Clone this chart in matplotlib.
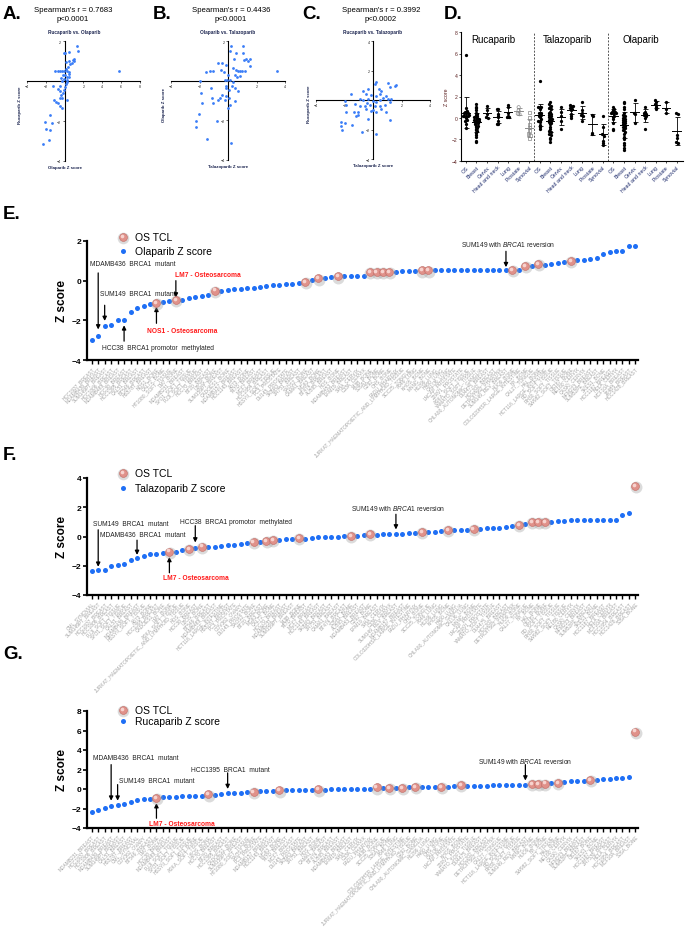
import numpy as np
import matplotlib
matplotlib.use("Agg")
import matplotlib.pyplot as plt
from matplotlib.transforms import offset_copy

plt.rcParams['font.family'] = ['Liberation Sans', 'DejaVu Sans']
plt.rcParams['mathtext.fontset'] = 'custom'
plt.rcParams['mathtext.it'] = 'Liberation Sans:italic'
plt.rcParams['mathtext.rm'] = 'Liberation Sans'

# ---------------- data: correlation scatters (A-C) ----------------
a_x = [1.30, 1.37, 0.42, 0.0, -0.11, 0.88, 1.02, 0.77, 0.42, 0.95, -0.98, -0.74, -0.53, -0.28,
       -0.04, 0.25, 0.49, 5.75, 0.07, 0.25, 0.42, -0.11, -0.28, 0.25, 0.14, -0.46, -1.26, -0.74,
       -0.53, -0.18, -0.39, -0.53, -0.28, 0.25, -0.88, -0.74, -0.53, -0.28, -1.16, -1.51, -2.04,
       -1.33, -1.93, -1.58, -1.68, -2.28, 0.1, -0.2, 0.3, 0.05, -0.1, 0.35, 0.6, 0.15, -0.4, 0.5]
a_y = [1.77, 1.51, 1.47, 1.42, 1.39, 1.04, 0.98, 0.89, 1.02, 1.12, 0.51, 0.51, 0.51, 0.51,
       0.51, 0.51, 0.46, 0.51, 0.28, 0.19, 0.37, 0.11, 0.02, -0.07, -0.16, -0.25, -0.26, -0.42,
       -0.51, -0.6, -0.68, -0.86, -0.86, -0.95, -1.07, -1.12, -1.25, -1.35, -0.95, -1.70, -2.05,
       -2.09, -2.40, -2.44, -2.93, -3.14, 0.6, 0.3, 0.05, -0.3, -0.45, 0.7, 0.85, 0.95, 0.15, 0.2]

b_x = [-1.99, -1.87, -1.83, -2.04, -2.27, -2.23, -1.48, -1.57, -1.29, -1.05, -0.70, -0.46, -0.39,
       -0.28, -0.11, 0.0, -1.17, -1.15, -1.05, -0.70, -0.58, -0.77, -0.39, -0.21, -0.06, -0.16,
       0.07, 0.12, 0.24, 0.16, 0.40, 0.59, 1.06, 1.06, 1.11, 1.29, 1.41, 1.53, 1.53, 0.35, 0.54,
       0.71, 0.87, 1.01, 1.18, 3.41, 0.47, 0.64, 0.12, 0.35, -0.12, 0.47, 0.71, -0.16, 0.07, 0.0,
       0.24, -0.24, 0.47, 0.31, 0.82]
b_y = [-0.02, -0.6, -1.12, -1.70, -2.05, -2.35, -2.93, 0.46, 0.51, 0.51, 0.89, 0.54, 0.89, 0.46,
       0.81, 0.28, -0.37, -0.86, -1.12, -0.95, -0.89, -2.02, -0.72, 0.02, 0.02, -0.37, -0.47,
       -1.21, 1.77, 1.51, 1.07, 1.42, 1.77, 1.42, 1.04, 1.07, 0.98, 1.11, 0.72, 0.63, 0.54, 0.51,
       0.51, 0.49, 0.51, 0.51, 0.28, 0.19, 0.05, -0.07, -0.25, -0.37, -0.54, -0.77, -0.86, -1.39,
       -3.14, -0.95, -1.04, -0.25, 0.23]

c_x = [0.19, 0.12, 1.05, 1.21, 1.51, 1.63, -0.35, -0.70, 0.42, 0.58, -1.51, -0.47, -0.12, 0.23,
       0.47, 0.93, 1.05, 1.28, -0.93, -0.70, -0.35, 0.0, 0.23, 0.47, 0.70, 1.16, -1.98, -1.91,
       -1.28, -0.93, -0.58, -0.23, 0.12, 0.47, 0.81, 0.58, -1.86, -1.35, -1.05, -0.47, 0.0, 0.23,
       0.93, -1.21, -1.05, -0.35, 1.21, -2.28, -1.98, -2.28, -2.21, -1.44, -0.74, 0.23, -0.42, -0.12]
c_y = [1.25, 1.09, 1.16, 0.86, 0.93, 1.02, 0.75, 0.64, 0.75, 0.64, 0.41, 0.41, 0.34, 0.30, 0.41,
       0.30, 0.07, 0.07, 0.07, 0.02, 0.07, -0.05, -0.16, 0.02, 0.11, -0.16, -0.05, -0.34, -0.27,
       -0.39, -0.39, -0.34, -0.39, -0.39, -0.34, -0.61, -0.84, -0.84, -0.84, -0.61, -0.66, -0.84,
       -0.80, -1.07, -1.02, -1.30, -1.34, -1.48, -1.57, -1.75, -2.02, -1.70, -2.16, -2.32, -0.20, -0.73]

# ---------------- data: waterfall panels (E-G) ----------------
ola_z = [-3.0, -2.8, -2.3, -2.25, -2.0, -2.0, -1.6, -1.4, -1.28, -1.2,
         -1.12, -1.07, -1.02, -0.98, -0.98, -0.87, -0.82, -0.77, -0.73, -0.5,
         -0.5, -0.47, -0.43, -0.42, -0.39, -0.38, -0.32, -0.25, -0.23, -0.21,
         -0.17, -0.15, -0.12, -0.05, 0.04, 0.12, 0.15, 0.19, 0.22, 0.23,
         0.23, 0.24, 0.25, 0.43, 0.43, 0.43, 0.44, 0.46, 0.47, 0.47,
         0.48, 0.52, 0.52, 0.54, 0.55, 0.55, 0.55, 0.55, 0.55, 0.55,
         0.55, 0.55, 0.55, 0.55, 0.55, 0.55, 0.56, 0.73, 0.73, 0.83,
         0.8, 0.83, 0.9, 0.93, 1.0, 1.03, 1.05, 1.07, 1.13, 1.35,
         1.43, 1.48, 1.48, 1.73, 1.73]
ola_os = [10, 13, 19, 33, 35, 38, 43, 44, 45, 46, 51, 52, 65, 67, 69, 74]

tala_z = [-2.37, -2.3, -2.3, -2.02, -1.93, -1.86, -1.6, -1.5, -1.33, -1.22,
          -1.17, -1.15, -1.03, -1.03, -0.94, -0.85, -0.76, -0.69, -0.71, -0.69,
          -0.64, -0.6, -0.55, -0.53, -0.46, -0.37, -0.37, -0.3, -0.25, -0.23,
          -0.18, -0.18, -0.11, -0.14, -0.11, -0.05, -0.03, -0.03, 0.0, 0.02,
          0.05, 0.05, 0.07, 0.16, 0.11, 0.14, 0.16, 0.18, 0.18, 0.21,
          0.25, 0.3, 0.32, 0.34, 0.39, 0.44, 0.44, 0.44, 0.46, 0.5,
          0.53, 0.55, 0.55, 0.6, 0.64, 0.69, 0.8, 0.85, 0.99, 0.99,
          0.99, 0.99, 1.03, 1.06, 1.1, 1.1, 1.13, 1.13, 1.13, 1.13,
          1.13, 1.13, 1.45, 1.59, 3.47]
tala_os = [12, 15, 17, 25, 27, 28, 32, 40, 43, 51, 55, 59, 66, 68, 69, 70, 84]

ruca_z = [-2.38, -2.14, -1.97, -1.72, -1.66, -1.55, -1.38, -1.1, -1.03, -1.0,
          -0.93, -0.86, -0.83, -0.79, -0.76, -0.76, -0.76, -0.69, -0.55, -0.59,
          -0.52, -0.41, -0.41, -0.38, -0.34, -0.28, -0.24, -0.21, -0.17, -0.14,
          -0.14, -0.14, -0.14, -0.14, -0.1, -0.03, -0.07, 0.0, 0.0, 0.0,
          0.0, 0.0, 0.02, 0.03, 0.17, 0.1, 0.14, 0.14, 0.14, 0.17,
          0.2, 0.17, 0.17, 0.2, 0.24, 0.24, 0.31, 0.42, 0.35, 0.35,
          0.35, 0.35, 0.38, 0.38, 0.38, 0.42, 0.42, 0.42, 0.49, 0.49,
          0.56, 0.59, 0.63, 0.73, 0.77, 0.77, 0.8, 0.9, 0.94, 1.01,
          1.01, 1.08, 1.15, 1.25, 5.89]
ruca_os = [10, 18, 25, 29, 35, 44, 46, 48, 50, 54, 57, 68, 69, 70, 72, 77, 84]

ola_names = [
    "HCC1937_BREAST", "MDAMB436_BREAST", "SUM149PT_BREAST", "HCC1806_BREAST", "MDAMB468_BREAST",
    "HCC38_BREAST", "HCC1395_BREAST", "CAL51_BREAST", "BT549_BREAST", "HS578T_BREAST",
    "NOS1_BONE", "CAL72_BONE", "HT1080_SOFT_TISSUE", "LM7_BONE", "MDAMB231_BREAST",
    "SYO1_SOFT_TISSUE", "FUJI_SOFT_TISSUE", "HCC70_BREAST", "BT20_BREAST", "U2OS_BONE",
    "SUM159PT_BREAST", "CADOES1_BONE", "MDAMB157_BREAST", "HCC1143_BREAST", "A673_BONE",
    "T47D_BREAST", "MCF7_BREAST", "HCC1954_BREAST", "HSSYII_SOFT_TISSUE", "PC3_PROSTATE",
    "DU145_PROSTATE", "SKBR3_BREAST", "ZR751_BREAST", "SAOS2_BONE", "CAMA1_BREAST",
    "MG63_BONE", "BT474_BREAST", "AU565_BREAST", "HOS_BONE", "MDAMB453_BREAST",
    "EFM19_BREAST", "SIHA_CERVIX", "C33A_CERVIX", "143B_BONE", "SJSA1_BONE",
    "G292_BONE", "OHS_BONE", "FADU_PHARYNX", "JURKAT_HAEMATOPOIETIC_AND_LYMPHOID_TISSUE", "SCC25_TONGUE",
    "A549_LUNG", "KHOS_BONE", "MNNG_BONE", "H1299_LUNG", "H460_LUNG",
    "CALU6_LUNG", "LNCAP_PROSTATE", "22RV1_PROSTATE", "ASKA_SOFT_TISSUE", "YAMATO_SOFT_TISSUE",
    "CHLA90_AUTONOMIC_GANGLIA", "DU4475_BREAST", "HCC202_BREAST", "DETROIT562_PHARYNX", "SUM149_REV_BREAST",
    "HUO9_BONE", "COLO320HSR_LARGE_INTESTINE", "NY_BONE", "CAL27_TONGUE", "HAL_BONE",
    "HCT116_LARGE_INTESTINE", "RD_SOFT_TISSUE", "RH30_SOFT_TISSUE", "SW982_SOFT_TISSUE", "OS187_BONE",
    "ME180_CERVIX", "CASKI_CERVIX", "MFM223_BREAST", "SUM52PE_BREAST", "SKES1_BONE",
    "HCC1187_BREAST", "HELA_CERVIX", "MCF10A_BREAST", "184B5_BREAST", "HCC1428_BREAST"]

tala_names = [
    "CML_SYNOVIAL", "SUM149PT_BREAST", "HCC1937_BREAST", "HCC1806_BREAST", "FUJI_SOFT_TISSUE",
    "SYO1_SOFT_TISSUE", "CAL51_BREAST", "MDAMB436_BREAST", "HSSYII_SOFT_TISSUE", "A673_BONE",
    "HCC1395_BREAST", "CADOES1_BONE", "LM7_BONE", "ASKA_SOFT_TISSUE", "JURKAT_HAEMATOPOIETIC_AND_LYMPHOID_TISSUE",
    "HOS_BONE", "HCC38_BREAST", "U2OS_BONE", "BT549_BREAST", "MDAMB468_BREAST",
    "HCT116_LARGE_INTESTINE", "HS578T_BREAST", "PC3_PROSTATE", "COV362_OVARY", "DU145_PROSTATE",
    "SAOS2_BONE", "BT20_BREAST", "MG63_BONE", "CAL72_BONE", "HCC70_BREAST",
    "MDAMB231_BREAST", "SUM159PT_BREAST", "143B_BONE", "T47D_BREAST", "MCF7_BREAST",
    "HCC1143_BREAST", "SKBR3_BREAST", "ZR751_BREAST", "CAMA1_BREAST", "BT474_BREAST",
    "SJSA1_BONE", "AU565_BREAST", "MDAMB453_BREAST", "G292_BONE", "EFM19_BREAST",
    "SIHA_CERVIX", "C33A_CERVIX", "SUM149_REV_BREAST", "MDAMB157_BREAST", "COLO320HSR_LARGE_INTESTINE",
    "FADU_PHARYNX", "OHS_BONE", "SCC25_TONGUE", "A549_LUNG", "H1299_LUNG",
    "KHOS_BONE", "H460_LUNG", "CHLA90_AUTONOMIC_GANGLIA", "CALU6_LUNG", "MNNG_BONE",
    "LNCAP_PROSTATE", "22RV1_PROSTATE", "YAMATO_SOFT_TISSUE", "DU4475_BREAST", "HCC202_BREAST",
    "DETROIT562_PHARYNX", "HUO9_BONE", "CAL27_TONGUE", "NY_BONE", "HAL_BONE",
    "OS187_BONE", "RD_SOFT_TISSUE", "RH30_SOFT_TISSUE", "SW982_SOFT_TISSUE", "ME180_CERVIX",
    "CASKI_CERVIX", "MFM223_BREAST", "SUM52PE_BREAST", "SKES1_BONE", "HCC1187_BREAST",
    "HELA_CERVIX", "MCF10A_BREAST", "HCC1954_BREAST", "HCC1428_BREAST", "SJSA_BONE"]

ruca_names = [
    "MDAMB231_BREAST", "HCC1937_BREAST", "HCC1806_BREAST", "MDAMB436_BREAST", "SUM149PT_BREAST",
    "CAL51_BREAST", "HS578T_BREAST", "CML_SYNOVIAL", "COV362_OVARY", "BT549_BREAST",
    "LM7_BONE", "HCC38_BREAST", "MDAMB468_BREAST", "FUJI_SOFT_TISSUE", "SYO1_SOFT_TISSUE",
    "HSSYII_SOFT_TISSUE", "A673_BONE", "ASKA_SOFT_TISSUE", "U2OS_BONE", "HCC70_BREAST",
    "BT20_BREAST", "HCC1395_BREAST", "CADOES1_BONE", "SUM159PT_BREAST", "HT1080_SOFT_TISSUE",
    "SAOS2_BONE", "PC3_PROSTATE", "MDAMB157_BREAST", "HCC1143_BREAST", "MG63_BONE",
    "T47D_BREAST", "MCF7_BREAST", "DU145_PROSTATE", "SKBR3_BREAST", "ZR751_BREAST",
    "HOS_BONE", "CAMA1_BREAST", "BT474_BREAST", "AU565_BREAST", "MDAMB453_BREAST",
    "EFM19_BREAST", "SIHA_CERVIX", "C33A_CERVIX", "FADU_PHARYNX", "143B_BONE",
    "SCC25_TONGUE", "SJSA1_BONE", "A549_LUNG", "COLO320HSR_LARGE_INTESTINE", "JURKAT_HAEMATOPOIETIC_AND_LYMPHOID_TISSUE",
    "G292_BONE", "CHLA90_AUTONOMIC_GANGLIA", "H1299_LUNG", "H460_LUNG", "OHS_BONE",
    "CALU6_LUNG", "LNCAP_PROSTATE", "KHOS_BONE", "22RV1_PROSTATE", "YAMATO_SOFT_TISSUE",
    "DU4475_BREAST", "HCC202_BREAST", "DETROIT562_PHARYNX", "CAL27_TONGUE", "HCT116_LARGE_INTESTINE",
    "RD_SOFT_TISSUE", "RH30_SOFT_TISSUE", "SUM149_REV_BREAST", "MNNG_BONE", "HUO9_BONE",
    "NY_BONE", "SW982_SOFT_TISSUE", "HAL_BONE", "ME180_CERVIX", "CASKI_CERVIX",
    "MFM223_BREAST", "SUM52PE_BREAST", "OS187_BONE", "SKES1_BONE", "HCC1187_BREAST",
    "ZR7530_BREAST", "HELA_CERVIX", "HCC1954_BREAST", "MCF10A_BREAST", "SJSA_BONE"]

# ---------------- data: tumour-type dot plots (D) ----------------
tumour_types = ["OS", "Breast", "Cervix", "Head and neck", "Lung", "Prostate", "Synovial"]
drugs = ["Rucaparib", "Talazoparib", "Olaparib"]
ruca_groups = [
    [1.3, 1.0, 0.9, 0.7, 0.5, 0.4, 0.3, 0.2, 0.1, 0.1, 0.0, -0.1, -0.2, -0.2, -0.3, -0.3, -0.4,
     -0.5, -0.5, -0.6, -0.7, -0.7, -0.8, -0.9, -1.0, -1.1, -1.2, -1.4, -1.6, -1.8, -2.1, -2.2],
    [1.1, 0.7, 0.4, 0.05, 0.0],
    [0.85, 0.8, 0.4, 0.2, 0.1, -0.3, -0.6, -0.6],
    [1.2, 1.0, 0.5, 0.2, 0.1, 0.1],
    [1.0, 0.7, 0.4, 0.35],
    [0.5, 0.0, -0.6, -0.9, -1.2, -1.5, -1.6, -1.9]]
tala_groups = [
    [1.5, 1.3, 1.1, 1.0, 0.9, 0.8, 0.6, 0.5, 0.4, 0.3, 0.2, 0.1, 0.0, -0.1, -0.2, -0.3, -0.4,
     -0.5, -0.6, -0.8, -1.0, -1.2, -1.3, -1.5, -1.6, -1.9, -2.0, -2.2],
    [1.0, 0.6, 0.2, -0.3, -1.0],
    [1.2, 1.1, 1.1, 1.0, 0.9, 0.8, 0.7, 0.4, 0.2, 0.0],
    [1.5, 0.7, 0.5, 0.3, 0.2, -0.3],
    [0.3, 0.2, -1.4, -1.5],
    [0.2, -0.8, -1.5, -1.7, -2.1, -2.3, -2.5]]
ola_groups = [
    [1.5, 1.4, 1.0, 0.8, 0.5, 0.3, 0.2, 0.0, -0.1, -0.2, -0.3, -0.4, -0.5, -0.6, -0.7, -0.8,
     -0.9, -1.0, -1.1, -1.3, -1.5, -1.8, -2.0, -2.3, -2.5, -2.8, -3.0],
    [1.7, 0.5, 0.4, -0.5],
    [1.0, 0.6, 0.5, 0.4, 0.3, 0.2, 0.0, -1.0],
    [1.7, 1.5, 1.3, 1.2, 1.0, 0.8],
    [1.5, 0.8, 0.5],
    [0.5, 0.4, -1.6, -1.9, -2.2, -2.3]]

W, H = 685, 928
BLUE = '#1f6ff5'
fig = plt.figure(figsize=(W / 100, H / 100), dpi=100)


def rect(x0, y0, x1, y1):
    return [x0 / W, 1 - y1 / H, (x1 - x0) / W, (y1 - y0) / H]


def ftext(px, py, s, **kw):
    fig.text(px / W, 1 - py / H, s, **kw)


# panel letters
for letter, px, py in [("A.", 3, 6), ("B.", 153, 6), ("C.", 302, 6), ("D.", 444, 6),
                       ("E.", 3, 206), ("F.", 3, 447), ("G.", 3, 646)]:
    ftext(px, py, letter, fontsize=13.5, fontweight='bold', va='top')

# ---------------- A-C ----------------
def corr_panel(r, xs, ys, xlim, ylim, xticks, yticks, title, xlab, ylab, stat, stat_x, title_x):
    ax = fig.add_axes(r)
    ax.scatter(xs, ys, s=4, color='#3a7df7', lw=0, zorder=3)
    ax.set_xlim(xlim)
    ax.set_ylim(ylim)
    ax.spines['left'].set_position(('data', 0))
    ax.spines['bottom'].set_position(('data', 0))
    ax.spines['top'].set_visible(False)
    ax.spines['right'].set_visible(False)
    for s in ['left', 'bottom']:
        ax.spines[s].set_linewidth(0.8)
    ax.set_xticks(xticks)
    ax.set_yticks(yticks)
    ax.tick_params(labelsize=2.6, length=1.5, width=0.5, pad=1, colors='#222222')
    ax.patch.set_alpha(0)
    ax.text(title_x, 1.07, title, transform=ax.transAxes, ha='center', fontsize=3.4,
            fontweight='bold', color='#1c2550')
    x0 = (0 - xlim[0]) / (xlim[1] - xlim[0])
    ax.text(x0, -0.03, xlab, transform=ax.transAxes, ha='center', va='top', fontsize=3.2,
            fontweight='bold', color='#1c2550')
    ax.text(-0.06, 0.47, ylab, transform=ax.transAxes, ha='center', va='center', rotation=90,
            fontsize=3.2, fontweight='bold', color='#1c2550')
    ftext(stat_x, 11, stat[0], fontsize=5.6, ha='center', va='center')
    ftext(stat_x, 19.5, stat[1], fontsize=5.6, ha='center', va='center')


corr_panel(rect(27, 42, 140, 162), a_x, a_y, (-4, 8), (-4, 2), [-4, -2, 2, 4, 6, 8], [-4, -2, 2],
           "Rucaparib vs. Olaparib", "Olaparib Z score", "Rucaparib Z score",
           ("Spearman's r = 0.7683", "p<0.0001"), 73, 0.42)
corr_panel(rect(171, 42, 285, 161), b_x, b_y, (-4, 4), (-4, 2), [-4, -2, 2, 4], [-4, -2, 2],
           "Olaparib vs. Talazoparib", "Talazoparib Z score", "Olaparib Z score",
           ("Spearman's r = 0.4436", "p<0.0001"), 231, 0.5)
corr_panel(rect(316, 42, 430, 160), c_x, c_y, (-4, 4), (-4, 4), [-4, -2, 2, 4], [-4, -2, 2, 4],
           "Rucaparib vs. Talazoparib", "Talazoparib Z score", "Rucaparib Z score",
           ("Spearman's r = 0.3992", "p<0.0002"), 381, 0.5)

# ---------------- D ----------------
def swarm(vals, width=0.2, step=0.16):
    v = np.asarray(vals, dtype=float)
    bins = np.round(v / width)
    offs = np.zeros(len(v))
    for b in np.unique(bins):
        idx = np.where(bins == b)[0]
        k = len(idx)
        offs[idx] = (np.arange(k) - (k - 1) / 2) * step
    return np.clip(offs, -0.42, 0.42)


axd = fig.add_axes(rect(461, 33, 683, 162))
all_groups = []
for vals, os_idx, groups in [(ruca_z, ruca_os, ruca_groups), (tala_z, tala_os, tala_groups),
                             (ola_z, ola_os, ola_groups)]:
    all_groups.append([[vals[i] for i in os_idx]] + groups)

pos = 0
for d, groups in enumerate(all_groups):
    for t, vals in enumerate(groups):
        grey = (d == 0 and t >= 5)
        col = '#8a8a8a' if grey else 'black'
        mk = 's' if (d == 0 and t == 6) else 'o'
        xs = pos + swarm(vals)
        if grey:
            axd.scatter(xs, vals, s=5.5, marker=mk, facecolor='none', edgecolor=col, lw=0.5, zorder=3)
        else:
            axd.scatter(xs, vals, s=5.5, marker=mk, color=col, lw=0, zorder=3)
        m, sd = np.mean(vals), np.std(vals, ddof=1)
        axd.errorbar([pos], [m], yerr=[sd], color=col, lw=0.6, capsize=1.8, capthick=0.6, zorder=4)
        axd.plot([pos - 0.4, pos + 0.4], [m, m], color=col, lw=0.7, zorder=4)
        pos += 1
for xv in [6.5, 13.5]:
    axd.axvline(xv, color='#555555', lw=0.7, ls=(0, (2, 1.5)))
for d, name in enumerate(drugs):
    axd.text(d * 7 + 2.6, 7.35, name, fontsize=7, ha='center', va='center')
axd.set_xlim(-0.47, 20.6)
axd.set_ylim(-4, 8)
axd.set_yticks(range(-4, 9, 2))
axd.set_xticks(range(21))
axd.set_xticklabels(tumour_types * 3, rotation=45, ha='right', rotation_mode='anchor',
                    fontsize=3.8, color='#1c2a6b')
axd.tick_params(axis='y', labelsize=3.6, length=1.5, width=0.5, pad=1, labelcolor='#5a1e1e')
axd.tick_params(axis='x', length=1.5, width=0.5, pad=1)
axd.spines['top'].set_visible(False)
axd.spines['right'].set_visible(False)
for s in ['left', 'bottom']:
    axd.spines[s].set_linewidth(0.8)
axd.set_ylabel("Z score", fontsize=3.8, color='#5a1e1e', labelpad=2)


# ---------------- E-G ----------------
def balls(ax, xs, ys, size=32):
    ax.scatter(xs, ys, s=size * 2.3, color='#9a9a9a', alpha=0.35, lw=0, zorder=4,
               transform=offset_copy(ax.transData, fig=fig, x=0.3, y=-0.9, units='points'),
               clip_on=False)
    ax.scatter(xs, ys, s=size, color='#e0918a', edgecolor='#c06a63', lw=0.4, zorder=5, clip_on=False)
    ax.scatter(xs, ys, s=size * 0.22, color='#f7d3cf', lw=0, zorder=6, clip_on=False,
               transform=offset_copy(ax.transData, fig=fig, x=-0.8, y=0.8, units='points'))


def waterfall(r, vals, os_idx, names, ylim, yticks, leg_name, leg_y, notes):
    ax = fig.add_axes(r)
    x = np.arange(len(vals))
    v = np.array(vals)
    ax.scatter(x, v, s=13, color=BLUE, lw=0, zorder=3, clip_on=False)
    balls(ax, x[os_idx], v[os_idx])
    ax.set_xlim(-0.73, 84.4)
    ax.set_ylim(ylim)
    ax.set_yticks(yticks)
    ax.set_xticks(x)
    ax.set_xticklabels(names, rotation=45, ha='right', rotation_mode='anchor', fontsize=3.5,
                       color='#a3a3a3')
    for lab in ax.get_yticklabels():
        lab.set_fontweight('bold')
    ax.tick_params(axis='y', labelsize=6, length=3, width=1.2, pad=1)
    ax.tick_params(axis='x', length=3, width=1.0, pad=1)
    ax.spines['top'].set_visible(False)
    ax.spines['right'].set_visible(False)
    for s in ['left', 'bottom']:
        ax.spines[s].set_linewidth(1.6)
    ax.patch.set_alpha(0)
    ax.set_ylabel("Z score", fontsize=8.5, fontweight='bold', labelpad=3)
    # legend
    bx = ax.transAxes
    ax.scatter([0.065], [leg_y[0]], s=70, color='#9a9a9a', alpha=0.35, lw=0, clip_on=False,
               transform=offset_copy(bx, fig=fig, x=0.3, y=-0.9, units='points'))
    ax.scatter([0.065], [leg_y[0]], s=32, color='#e0918a', edgecolor='#c06a63', lw=0.4,
               transform=bx, clip_on=False, zorder=5)
    ax.scatter([0.065], [leg_y[0]], s=7, color='#f7d3cf', lw=0, clip_on=False, zorder=6,
               transform=offset_copy(bx, fig=fig, x=-0.8, y=0.8, units='points'))
    ax.scatter([0.065], [leg_y[1]], s=13, color=BLUE, lw=0, transform=bx, clip_on=False)
    ax.text(0.087, leg_y[0], "OS TCL", transform=bx, fontsize=7.5, va='center')
    ax.text(0.087, leg_y[1], leg_name, transform=bx, fontsize=7.5, va='center')
    for txt, tx, ty, ai, a0, a1, red in notes:
        ax.text(tx, ty, txt, fontsize=4.8, ha='left', va='center',
                color='#ff1a1a' if red else '#222222', fontweight='bold' if red else 'normal')
        ax.annotate('', xy=(ai, a1), xytext=(ai, a0),
                    arrowprops=dict(arrowstyle='-|>', color='black', lw=0.9, mutation_scale=6,
                                    shrinkA=0, shrinkB=0))
    return ax


rev = "SUM149 with $\\mathit{BRCA1}$ reversion"
ola_notes = [("MDAMB436  BRCA1  mutant", -0.26, 0.85, 1, 0.39, -2.46, False),
             ("SUM149  BRCA1  mutant", 1.28, -0.63, 2, -1.24, -2.03, False),
             ("HCC38  BRCA1 promotor  methylated", 1.55, -3.39, 5, -3.05, -2.25, False),
             ("LM7 - Osteosarcoma", 12.9, 0.32, 13, 0.0, -0.85, True),
             ("NOS1 - Osteosarcoma", 8.5, -2.5, 10, -2.15, -1.32, True),
             (rev, 57.0, 1.85, 64, 1.48, 0.68, False)]
tala_notes = [("SUM149  BRCA1  mutant", 0.25, 0.92, 1, 0.46, -2.07, False),
              ("MDAMB436  BRCA1  mutant", 1.28, 0.11, 7, -0.25, -1.26, False),
              ("HCC38  BRCA1 promotor  methylated", 13.65, 1.03, 16, 0.74, -0.41, False),
              ("LM7 - Osteosarcoma", 10.97, -2.8, 12, -2.48, -1.4, True),
              (rev, 40.0, 1.98, 47, 1.52, 0.48, False)]
ruca_notes = [("MDAMB436  BRCA1  mutant", 0.15, 3.2, 3, 2.5, -1.2, False),
              ("SUM149  BRCA1  mutant", 4.27, 0.86, 4, 0.45, -1.2, False),
              ("HCC1395  BRCA1  mutant", 15.35, 2.0, 21, 1.65, 0.0, False),
              ("LM7 - Osteosarcoma", 8.86, -3.5, 10, -3.0, -1.45, True),
              (rev, 59.75, 2.96, 67, 2.5, 0.87, False)]

waterfall(rect(87, 242, 638, 361), ola_z, ola_os, ola_names, (-4, 2), [-4, -2, 0, 2],
          "Olaparib Z score", (1.034, 0.916), ola_notes)
waterfall(rect(87, 479, 638, 596), tala_z, tala_os, tala_names, (-4, 4), [-4, -2, 0, 2, 4],
          "Talazoparib Z score", (1.043, 0.915), tala_notes)
waterfall(rect(87, 712, 638, 829), ruca_z, ruca_os, ruca_names, (-4, 8), [-4, -2, 0, 2, 4, 6, 8],
          "Rucaparib Z score", (1.009, 0.915), ruca_notes)

fig.savefig("out.png", dpi=100)
